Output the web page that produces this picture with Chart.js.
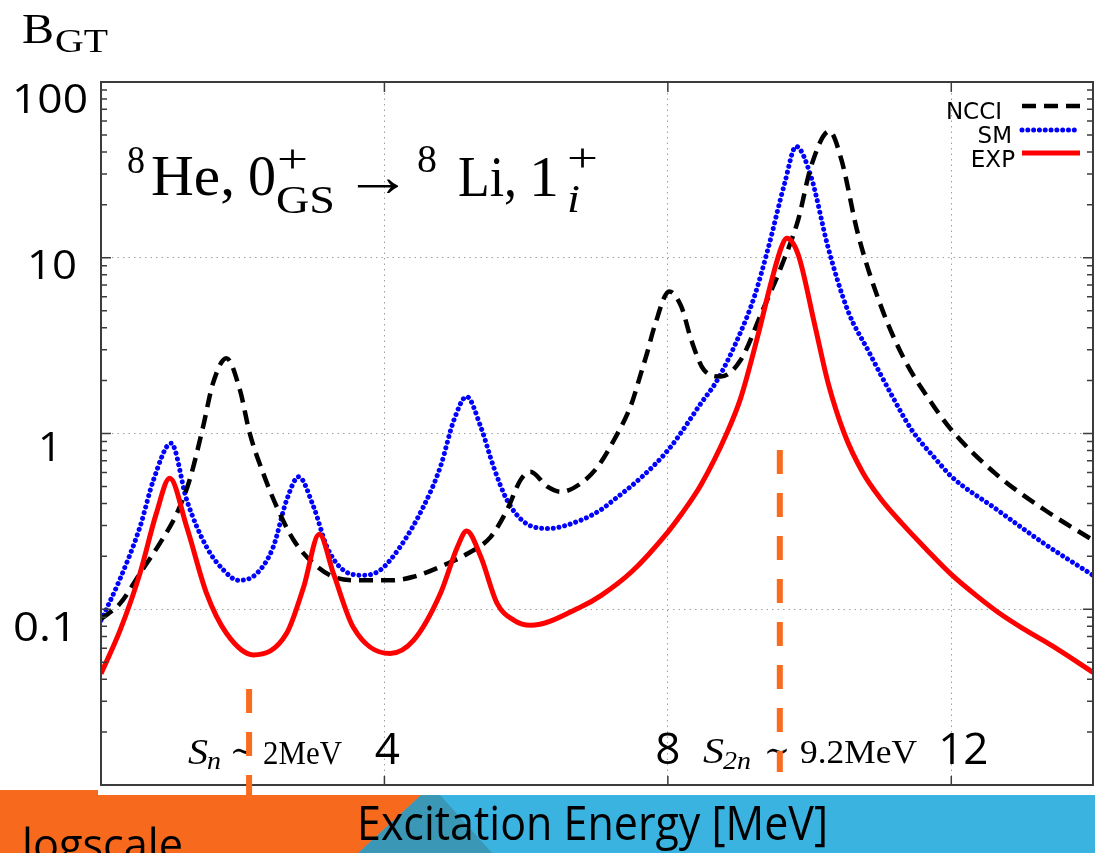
<!DOCTYPE html>
<html><head><meta charset="utf-8">
<script src="https://cdn.jsdelivr.net/npm/chart.js@4/dist/chart.umd.min.js"></script>
<style>html,body{margin:0;padding:0;background:#fff;overflow:hidden}#wrap{position:relative;width:1095px;height:853px}</style>
</head><body><div id="wrap"><canvas id="c" width="1095" height="853"></canvas></div>
<script>
// ---- data ----
const seriesNames = ['NCCI', 'SM', 'EXP'];
const energyNCCI = [0,0.27,0.55,0.83,1.07,1.25,1.44,1.58,1.77,1.96,2.1,2.29,2.48,2.72,3.0,3.28,3.66,4.08,4.41,4.89,5.17,5.5,5.73,5.92,6.06,6.3,6.49,6.77,7.01,7.24,7.48,7.62,7.71,7.81,8.02,8.19,8.33,8.51,8.75,9.03,9.32,9.6,9.84,10.02,10.28,10.45,10.68,11.01,11.34,11.67,12.0,12.62,13.32,14.0];
const bgtNCCI = [0.088,0.108,0.16,0.237,0.351,0.543,1.09,1.93,2.68,1.77,1.0,0.593,0.383,0.247,0.182,0.153,0.146,0.146,0.153,0.182,0.207,0.258,0.367,0.543,0.605,0.498,0.466,0.52,0.647,0.918,1.45,2.2,2.9,4.05,6.43,5.27,3.41,2.3,2.11,2.63,4.84,8.9,16.5,33,52.5,36,13.8,5.27,2.63,1.6,1.05,0.593,0.367,0.247];
const energySM = [0,0.26,0.55,0.74,0.99,1.21,1.49,1.73,1.94,2.2,2.43,2.62,2.79,3.0,3.19,3.42,3.71,3.94,4.22,4.55,4.79,4.98,5.16,5.36,5.54,5.73,5.97,6.3,6.77,7.05,7.24,7.62,8.02,8.47,8.7,9.03,9.22,9.41,9.65,9.81,10.02,10.26,10.54,10.83,11.16,11.44,11.8,12.0,12.62,13.32,14.0];
const bgtSM = [0.0865,0.146,0.294,0.543,0.88,0.418,0.226,0.167,0.146,0.16,0.226,0.418,0.567,0.383,0.226,0.167,0.156,0.167,0.226,0.383,0.647,1.19,1.62,1.09,0.647,0.418,0.314,0.288,0.321,0.367,0.42,0.56,0.82,1.49,2.02,3.8,6.0,11.1,26.7,43,29,11.5,5.0,2.95,1.65,1.05,0.70,0.57,0.375,0.235,0.156];
const energyEXP = [0,0.27,0.55,0.78,0.97,1.21,1.49,1.77,2.15,2.62,2.86,3.08,3.28,3.56,4.08,4.41,4.79,5.03,5.16,5.36,5.59,5.83,6.06,6.77,7.06,7.5,8.0,8.19,8.47,8.83,9.03,9.27,9.46,9.6,9.68,9.84,10.07,10.26,10.49,10.75,11.0,11.3,11.65,12.0,12.35,12.71,13.05,13.42,14.0];
const bgtEXP = [0.043,0.076,0.16,0.35,0.556,0.294,0.123,0.073,0.055,0.073,0.134,0.267,0.16,0.079,0.056,0.0665,0.123,0.226,0.279,0.199,0.108,0.0865,0.081,0.103,0.12,0.165,0.275,0.347,0.513,1.0,1.6,3.6,7.3,11.4,12.9,10.4,4.2,1.95,1.0,0.60,0.427,0.309,0.219,0.158,0.12,0.093,0.076,0.062,0.0437];
const xTickValues = [4, 8, 12];
const xTickLabels = ['4', '8', '12'];
const yTickValues = [100, 10, 1, 0.1];
const yTickLabels = ['100', '10', '1', '0.1'];
const thresholdEnergies = [2.09, 9.58]; // S_n and S_2n markers as drawn
const xRange = [0, 14];
const yRange = [0.01, 100];

const pts = (xs, ys) => xs.map((x, i) => ({x, y: ys[i]}));

function txt(ctx, s, x, y, font, w, color, align) {
  ctx.save();
  ctx.font = font;
  ctx.fillStyle = color || '#000';
  ctx.textBaseline = 'alphabetic';
  ctx.textAlign = 'left';
  const mw = ctx.measureText(s).width;
  const sx = w ? w / mw : 1;
  let x0 = x;
  if (align === 'center') x0 = x - mw * sx / 2;
  if (align === 'right') x0 = x - mw * sx;
  ctx.translate(x0, y);
  ctx.scale(sx, 1);
  ctx.fillText(s, 0, 0);
  ctx.restore();
}

const decor = {
  id: 'decor',
  beforeDraw(chart) {
    const ctx = chart.ctx;
    ctx.save();
    ctx.fillStyle = '#fff';
    ctx.fillRect(0, 0, chart.width, chart.height);
    // bottom band
    ctx.fillStyle = '#3ab3e0';
    ctx.fillRect(0, 795, 1095, 58);
    ctx.fillStyle = '#3a97b6';
    ctx.beginPath(); ctx.moveTo(421, 795); ctx.lineTo(440, 795); ctx.lineTo(492, 853); ctx.lineTo(358, 853); ctx.closePath(); ctx.fill();
    ctx.fillStyle = '#f76a1e';
    ctx.beginPath(); ctx.moveTo(0, 790); ctx.lineTo(98, 790); ctx.lineTo(98, 795); ctx.lineTo(421, 795); ctx.lineTo(358, 853); ctx.lineTo(0, 853); ctx.closePath(); ctx.fill();
    ctx.restore();
  },
  afterDatasetsDraw(chart) {
    const ctx = chart.ctx;
    const a = chart.chartArea;
    const xs = chart.scales.x, ys = chart.scales.y;
    ctx.save();
    // frame
    ctx.strokeStyle = '#3c3c3c';
    ctx.lineWidth = 2;
    ctx.strokeRect(a.left, a.top, a.right - a.left, a.bottom - a.top);
    // y ticks (major + minor), left and right, inward
    ctx.lineWidth = 1.5;
    for (let e = -2; e <= 2; e++) {
      for (let k = 1; k <= 9; k++) {
        const v = k * Math.pow(10, e);
        if (v < yRange[0] || v > yRange[1]) continue;
        const py = ys.getPixelForValue(v);
        const len = k === 1 ? 10 : 6;
        ctx.beginPath();
        ctx.moveTo(a.left, py); ctx.lineTo(a.left + len, py);
        ctx.moveTo(a.right, py); ctx.lineTo(a.right - len, py);
        ctx.stroke();
      }
    }
    // x ticks top/bottom
    xTickValues.forEach(v => {
      const px = xs.getPixelForValue(v);
      ctx.beginPath();
      ctx.moveTo(px, a.bottom); ctx.lineTo(px, a.bottom - 9);
      ctx.moveTo(px, a.top); ctx.lineTo(px, a.top + 10);
      ctx.stroke();
    });
    ctx.restore();

    // tick labels
    const sans = '"Open Sans", "Noto Sans", sans-serif';
    const xOff = [3, 0, 12];
    xTickValues.forEach((v, i) => {
      txt(ctx, xTickLabels[i], xs.getPixelForValue(v) + xOff[i], 764, '44px ' + sans, null, '#000', 'center');
    });
    const yLeft = [12, 27, 38, 13];
    const yW = [76, 50, 24, 64];
    const yOff = [31, 21, 27, 32];
    yTickValues.forEach((v, i) => {
      txt(ctx, yTickLabels[i], yLeft[i], ys.getPixelForValue(v) + yOff[i], '40px ' + sans, yW[i]);
    });

    // title formula
    const serif = '"Liberation Serif", "DejaVu Serif", serif';
    txt(ctx, '8', 127, 173, '40px ' + serif, 18);
    txt(ctx, 'He,', 151, 195, '58px ' + serif, 84);
    txt(ctx, '0', 248, 195, '58px ' + serif, 28);
    txt(ctx, '+', 277, 172, '40px ' + serif, 31);
    txt(ctx, 'GS', 276, 213, '40px ' + serif, 59);
    txt(ctx, '\u2192', 344, 196, '58px ' + serif, 68);
    txt(ctx, '8', 417, 172, '40px ' + serif, 20);
    txt(ctx, 'Li,', 458, 196, '58px ' + serif, 59);
    txt(ctx, '1', 529, 196, '58px ' + serif, 30);
    txt(ctx, '+', 567, 171, '40px ' + serif, 31);
    txt(ctx, 'i', 567, 212, 'italic 40px ' + serif, 13);

    // B_GT
    txt(ctx, 'B', 22, 43, '42px ' + serif, 32);
    txt(ctx, 'GT', 55, 52, '34px ' + serif, 53);

    // threshold labels
    txt(ctx, 'S', 188, 764, 'italic 36px ' + serif, 20);
    txt(ctx, 'n', 207, 769, 'italic 26px ' + serif, 14);
    txt(ctx, '\u223C', 230, 762, '34px ' + serif, 25);
    txt(ctx, '2MeV', 263, 764, '34px ' + serif, 79);
    txt(ctx, 'S', 703, 763, 'italic 36px ' + serif, 21);
    txt(ctx, '2n', 723, 769, 'italic 26px ' + serif, 28);
    txt(ctx, '\u223C', 764, 762, '34px ' + serif, 26);
    txt(ctx, '9.2MeV', 800, 763, '34px ' + serif, 117);

    // threshold dashed markers
    ctx.save();
    ctx.strokeStyle = '#fa6b1e';
    ctx.lineWidth = 6;
    ctx.setLineDash([24, 19]);
    const spans = [[689, 800], [450, 772]];
    thresholdEnergies.forEach((e, i) => {
      const px = xs.getPixelForValue(e);
      ctx.beginPath(); ctx.moveTo(px, spans[i][0]); ctx.lineTo(px, spans[i][1]); ctx.stroke();
    });
    ctx.restore();

    // legend
    const order = ['NCCI', 'SM', 'EXP'];
    const textRight = [1002, 1012, 1015];
    const textBase = [119, 143, 167];
    const lineY = [106, 130, 153];
    order.forEach((name, i) => {
      const ds = chart.data.datasets.find(d => d.label === name);
      txt(ctx, name, textRight[i], textBase[i], '23px "DejaVu Sans", sans-serif', null, '#000', 'right');
      ctx.save();
      ctx.strokeStyle = ds.borderColor;
      ctx.lineWidth = ds.borderWidth;
      ctx.lineCap = ds.borderCapStyle || 'butt';
      ctx.setLineDash(ds.borderDash || []);
      ctx.beginPath(); ctx.moveTo(1022, lineY[i]); ctx.lineTo(1080, lineY[i]); ctx.stroke();
      ctx.restore();
    });

    // axis title and note
    txt(ctx, 'Excitation Energy [MeV]', 357, 840, '48px ' + sans, 471);
    txt(ctx, 'logscale', 22, 860, '44px ' + sans, 161);
  }
};

new Chart(document.getElementById('c'), {
  type: 'line',
  data: {
    datasets: [
      { label: seriesNames[2], data: pts(energyEXP, bgtEXP), borderColor: '#ff0000', borderWidth: 5, cubicInterpolationMode: 'monotone', pointRadius: 0, fill: false },
      { label: seriesNames[0], data: pts(energyNCCI, bgtNCCI), borderColor: '#000000', borderWidth: 4.5, borderDash: [14, 8], cubicInterpolationMode: 'monotone', pointRadius: 0, fill: false },
      { label: seriesNames[1], data: pts(energySM, bgtSM), borderColor: '#0000ff', borderWidth: 5, borderDash: [0.01, 5.8], borderCapStyle: 'round', cubicInterpolationMode: 'monotone', pointRadius: 0, fill: false }
    ]
  },
  options: {
    responsive: false,
    devicePixelRatio: 1,
    animation: false,
    layout: { padding: { top: 82, right: 2, left: 0, bottom: 0 } },
    plugins: { legend: { display: false }, tooltip: { enabled: false } },
    scales: {
      x: {
        type: 'linear', min: xRange[0], max: xRange[1], position: 'bottom',
        grid: { color: '#a0a0a0', lineWidth: 1, drawTicks: false },
        border: { display: false, dash: [1.5, 4] },
        ticks: { display: false },
        afterBuildTicks: s => { s.ticks = xTickValues.map(v => ({ value: v })); },
        afterFit: s => { s.height = 68; }
      },
      y: {
        type: 'logarithmic', min: yRange[0], max: yRange[1], position: 'left',
        grid: { color: '#a0a0a0', lineWidth: 1, drawTicks: false },
        border: { display: false, dash: [1.5, 4] },
        ticks: { display: false },
        afterBuildTicks: s => { s.ticks = yTickValues.map(v => ({ value: v })); },
        afterFit: s => { s.width = 101; }
      }
    }
  },
  plugins: [decor]
});
</script></body></html>
